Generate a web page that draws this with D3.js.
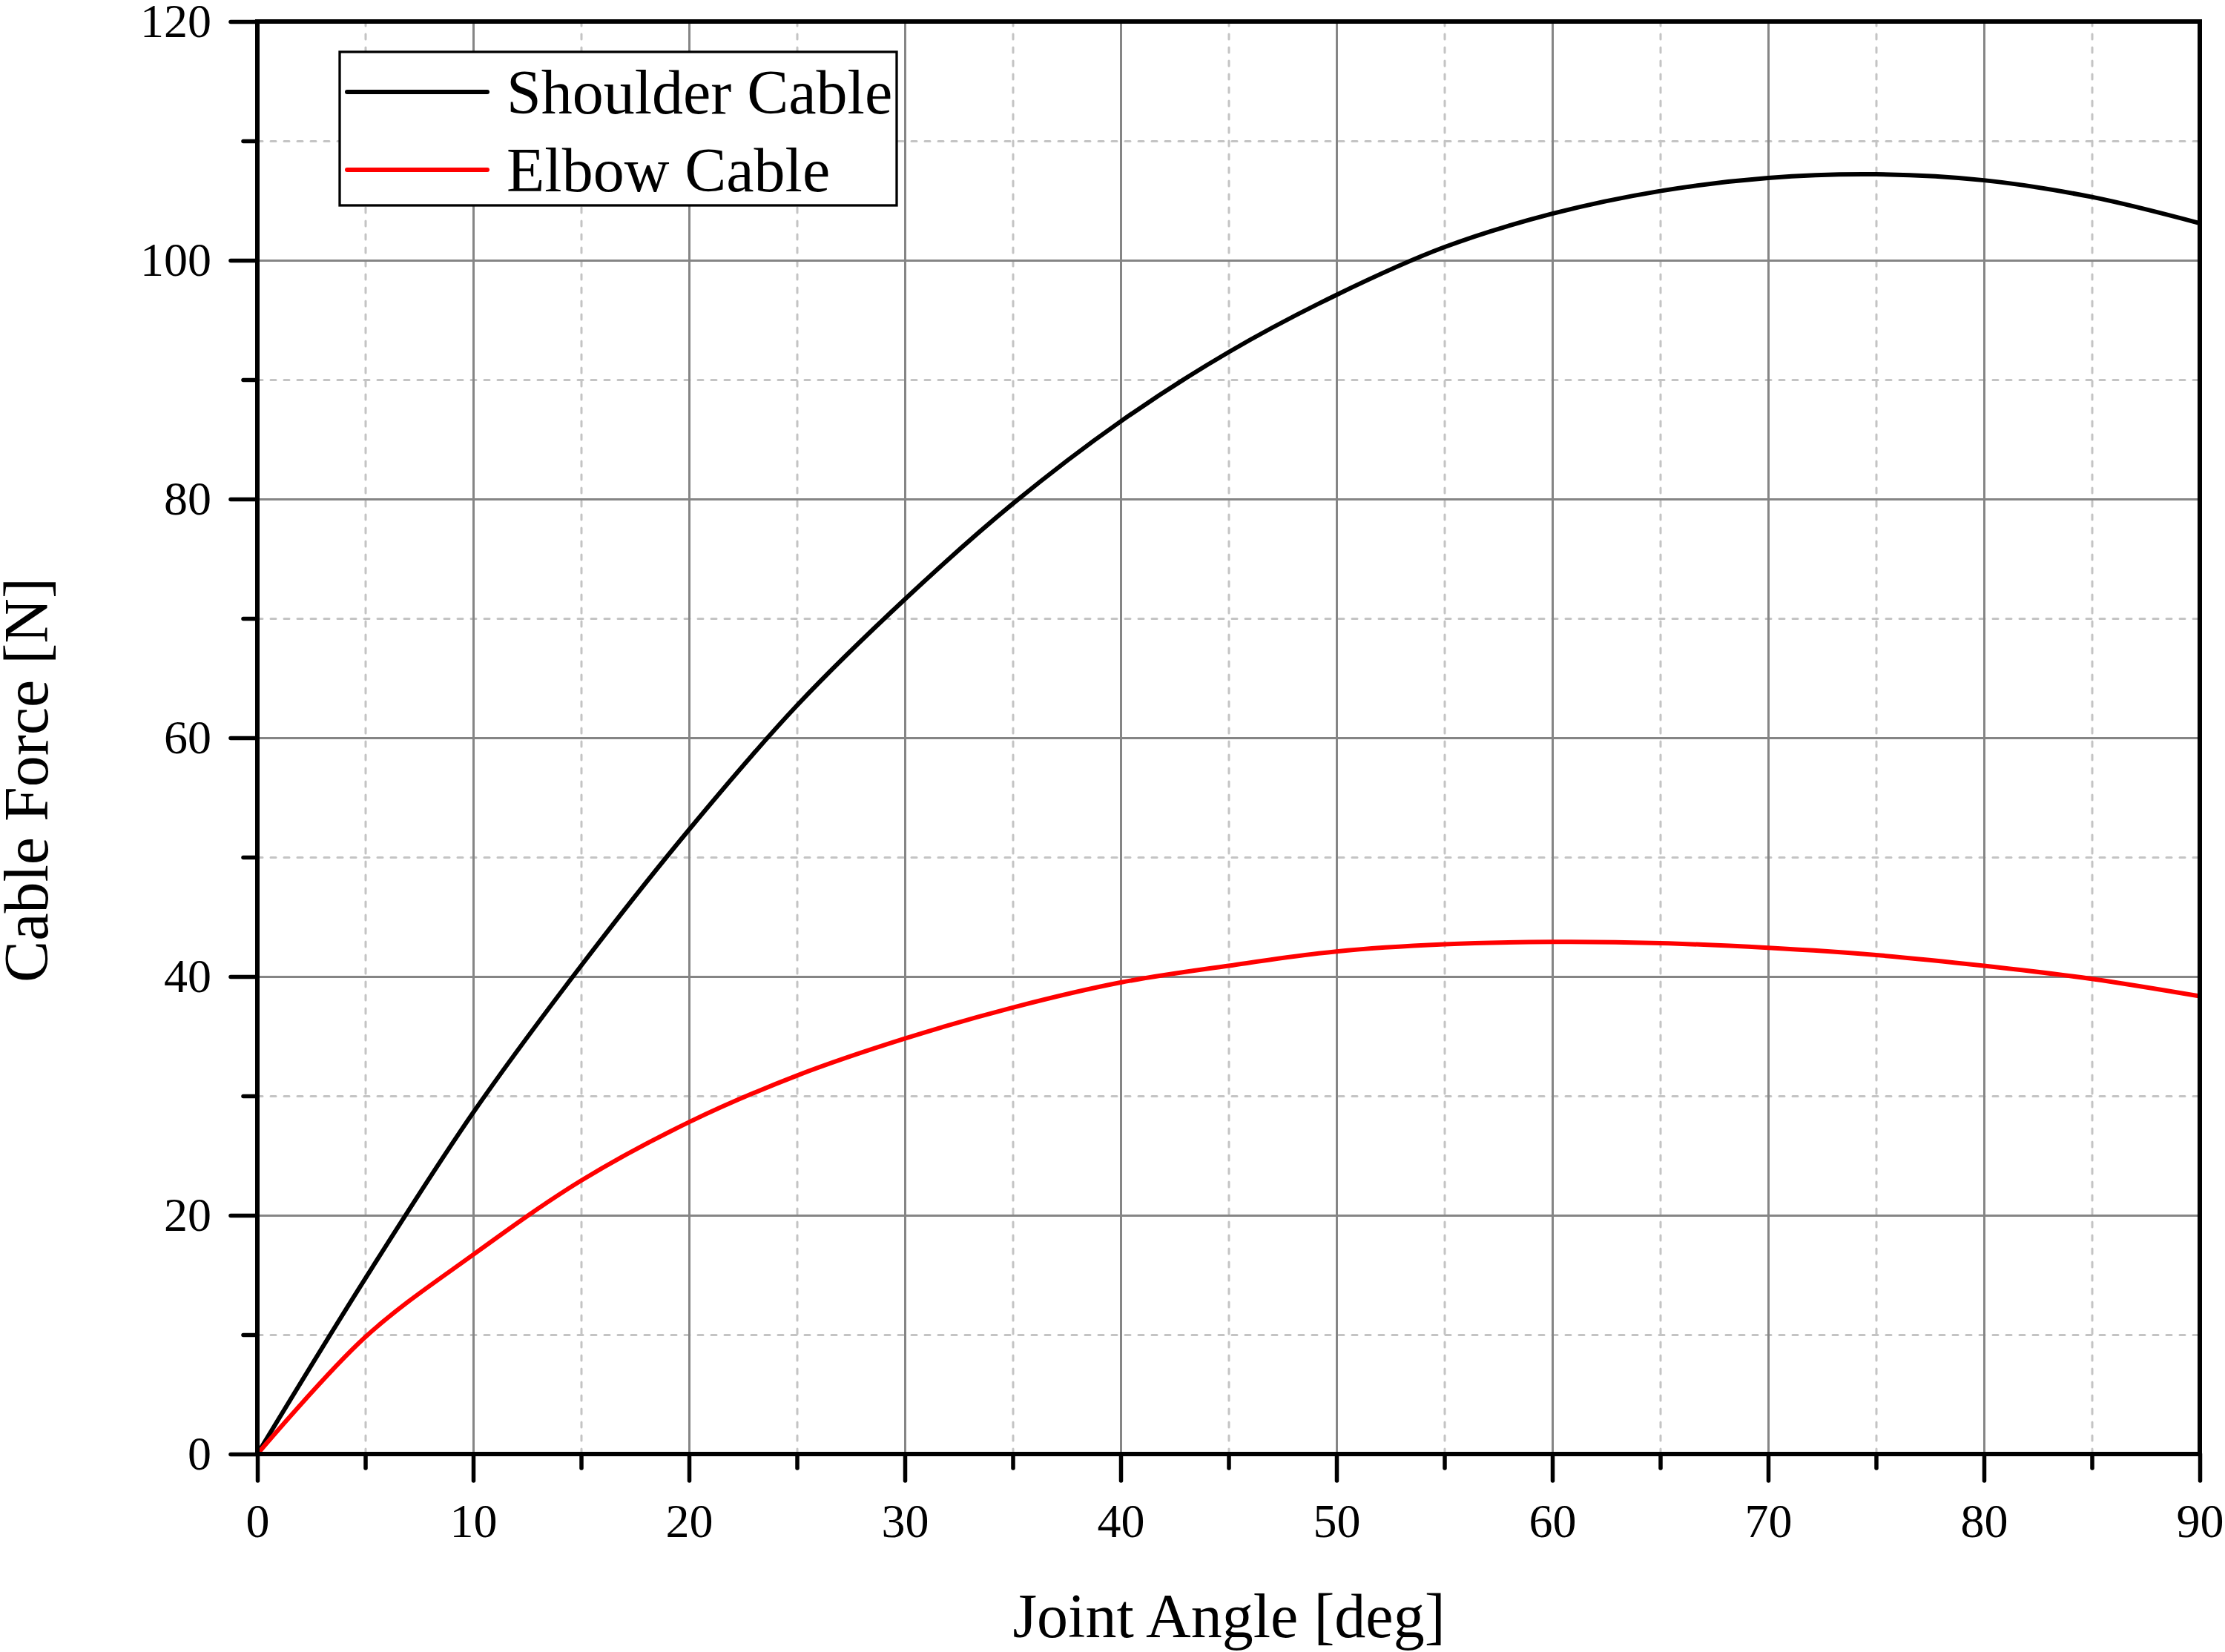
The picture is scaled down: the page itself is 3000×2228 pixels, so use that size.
<!DOCTYPE html>
<html>
<head>
<meta charset="utf-8">
<script src="https://cdn.jsdelivr.net/npm/d3@7/dist/d3.min.js"></script>
<style>
  body { margin: 0; background: #fff; }
  svg { display: block; font-family: "Liberation Serif", "Times New Roman", serif; }
</style>
</head>
<body>
<svg id="chart" width="3000" height="2228"></svg>
<script>
// данные (шаг 5 градусов)
const angles = [0, 5, 10, 15, 20, 25, 30, 35, 40, 45, 50, 55, 60, 65, 70, 75, 80, 85, 90];
const shoulderForce = [0, 14.7, 28.6, 40.9, 52.3, 62.7, 71.6, 79.6, 86.5, 92.3, 97.1, 101.1, 103.9, 105.8, 106.9, 107.2, 106.7, 105.3, 103.1];
const elbowForce = [0, 9.8, 16.7, 22.9, 27.8, 31.7, 34.8, 37.4, 39.5, 40.9, 42.1, 42.7, 42.9, 42.8, 42.4, 41.8, 40.9, 39.8, 38.35];

const seriesNames = ["Shoulder Cable", "Elbow Cable"];

const xMajorTicks = [0, 10, 20, 30, 40, 50, 60, 70, 80, 90];
const xMinorTicks = [5, 15, 25, 35, 45, 55, 65, 75, 85];
const yMajorTicks = [0, 20, 40, 60, 80, 100, 120];
const yMinorTicks = [10, 30, 50, 70, 90, 110];

const xTitle = "Joint Angle [deg]";
const yTitle = "Cable Force [N]";

// оформление
const colors = ["#000000", "#ff0000"];
const area = { left: 347, right: 2966, top: 29, bottom: 1961 };
const plotW = area.right - area.left;
const plotH = area.bottom - area.top;

const svg = d3.select("#chart");

const scX = d3.scaleLinear().domain([0, 90]).range([0, plotW]);
const scY = d3.scaleLinear().domain([0, 120]).range([plotH, 0]);

const plot = svg.append("g")
    .attr("transform", `translate(${area.left}, ${area.top})`);

// сетка: мелкая пунктирная и основная сплошная
function drawGrid(axis, cls, dashed) {
    const g = plot.append("g").attr("class", cls).call(axis);
    g.select(".domain").remove();
    g.selectAll("line")
        .attr("stroke", dashed ? "#c4c4c4" : "#858585")
        .attr("stroke-width", 3)
        .attr("stroke-linecap", dashed ? "round" : "butt")
        .attr("stroke-dasharray", dashed ? "7,11" : null);
    return g;
}

drawGrid(d3.axisBottom(scX).tickValues(xMinorTicks).tickSize(-plotH).tickFormat(""), "gx-minor", true)
    .attr("transform", `translate(0, ${plotH})`);
drawGrid(d3.axisLeft(scY).tickValues(yMinorTicks).tickSize(-plotW).tickFormat(""), "gy-minor", true);
drawGrid(d3.axisBottom(scX).tickValues(xMajorTicks.slice(1, -1)).tickSize(-plotH).tickFormat(""), "gx-major", false)
    .attr("transform", `translate(0, ${plotH})`);
drawGrid(d3.axisLeft(scY).tickValues(yMajorTicks.slice(1, -1)).tickSize(-plotW).tickFormat(""), "gy-major", false);

// кривые
const series = [shoulderForce, elbowForce];
const line = d3.line()
    .x(d => scX(d[0]))
    .y(d => scY(d[1]))
    .curve(d3.curveCatmullRom.alpha(0.5));

series.forEach((vals, i) => {
    plot.append("path")
        .datum(angles.map((a, k) => [a, vals[k]]))
        .attr("fill", "none")
        .attr("stroke", colors[i])
        .attr("stroke-width", 6)
        .attr("stroke-linejoin", "round")
        .attr("d", line);
});

// рамка
plot.append("rect")
    .attr("x", 0).attr("y", 0)
    .attr("width", plotW).attr("height", plotH)
    .attr("fill", "none")
    .attr("stroke", "#000")
    .attr("stroke-width", 6);

// оси с делениями
function styleAxis(g) {
    g.select(".domain").remove();
    g.selectAll("line")
        .attr("stroke", "#000")
        .attr("stroke-width", 5.5)
        .attr("stroke-linecap", "round");
    g.selectAll("text")
        .attr("fill", "#000")
        .style("font-size", "64px")
        .style("font-family", "'Liberation Serif', 'Times New Roman', serif");
}

plot.append("g")
    .attr("transform", `translate(0, ${plotH})`)
    .call(d3.axisBottom(scX).tickValues(xMinorTicks).tickSize(19).tickFormat(""))
    .call(styleAxis);
plot.append("g")
    .attr("transform", `translate(0, ${plotH})`)
    .call(d3.axisBottom(scX).tickValues(xMajorTicks).tickSize(36).tickPadding(31))
    .call(styleAxis);
plot.append("g")
    .call(d3.axisLeft(scY).tickValues(yMinorTicks).tickSize(19).tickFormat(""))
    .call(styleAxis);
plot.append("g")
    .call(d3.axisLeft(scY).tickValues(yMajorTicks).tickSize(36).tickPadding(26))
    .call(styleAxis);

// подписи осей
svg.append("text")
    .attr("x", 1657).attr("y", 2208)
    .attr("text-anchor", "middle")
    .style("font-size", "84px")
    .text(xTitle);

svg.append("text")
    .attr("transform", "translate(64, 1052) rotate(-90)")
    .attr("text-anchor", "middle")
    .style("font-size", "84px")
    .text(yTitle);

// легенда
const legend = svg.append("g");
legend.append("rect")
    .attr("x", 458).attr("y", 70)
    .attr("width", 751).attr("height", 207)
    .attr("fill", "#fff")
    .attr("stroke", "#000")
    .attr("stroke-width", 3.3);

const legendRows = [124, 229];
seriesNames.forEach((name, i) => {
    legend.append("line")
        .attr("x1", 468).attr("x2", 657)
        .attr("y1", legendRows[i]).attr("y2", legendRows[i])
        .attr("stroke", colors[i])
        .attr("stroke-width", 6)
        .attr("stroke-linecap", "round");
    legend.append("text")
        .attr("x", 683).attr("y", legendRows[i] + 29)
        .style("font-size", "84px")
        .text(name);
});
</script>
</body>
</html>
